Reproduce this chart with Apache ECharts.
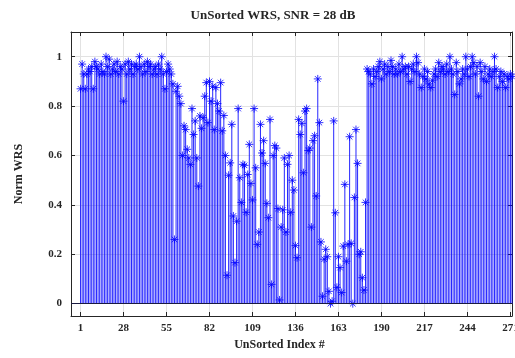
<!DOCTYPE html>
<html>
<head>
<meta charset="utf-8">
<script src="https://cdn.jsdelivr.net/npm/echarts@6/dist/echarts.min.js"></script>
<style>
  html, body { margin: 0; padding: 0; background: #fff; }
  #chart { width: 515px; height: 358px; }
</style>
</head>
<body>
<div id="chart"></div>
<script>
// Normalised WRS per (unsorted) index, 1..272
const wrsFront = [
  0.87, 0.97, 0.93, 0.87, 0.93, 0.95, 0.94, 0.96, 0.87, 0.98,
  0.96, 0.95, 0.93, 0.97, 0.94, 0.93, 1.00, 0.96, 0.99, 0.93,
  0.95, 0.97, 0.94, 0.98, 0.93, 0.96, 0.95, 0.82, 0.97, 0.93,
  0.98, 0.95, 0.97, 0.93, 0.96, 0.97, 0.95, 1.00, 0.96, 0.93,
  0.97, 0.94, 0.98, 0.96, 0.97, 0.93, 0.95, 0.96, 0.93, 0.97,
  0.95, 1.00, 0.93, 0.87, 0.94, 0.97, 0.95, 0.93, 0.89
];
const wrsMiddle = [
  0.26, 0.86, 0.88, 0.84, 0.81, 0.60, 0.72, 0.705, 0.625, 0.59,
  0.564, 0.79, 0.685, 0.74, 0.59, 0.476, 0.76, 0.71, 0.753, 0.84,
  0.895, 0.733, 0.90, 0.82, 0.88, 0.705, 0.875, 0.81, 0.78, 0.895,
  0.70, 0.762, 0.60, 0.115, 0.52, 0.57, 0.726, 0.355, 0.166, 0.334,
  0.79,
  0.51, 0.41, 0.564, 0.56, 0.37, 0.523, 0.645, 0.487, 0.42, 0.79,
  0.55, 0.24, 0.29, 0.726, 0.61, 0.66, 0.568, 0.406, 0.348, 0.746,
  0.078, 0.60, 0.64, 0.63, 0.385, 0.015, 0.31, 0.38, 0.59, 0.29,
  0.564, 0.60, 0.37, 0.50, 0.46, 0.235, 0.186, 0.746, 0.685, 0.73,
  0.53, 0.78, 0.79, 0.62, 0.63, 0.31, 0.66, 0.68, 0.436, 0.91,
  0.733, 0.25, 0.03, 0.18, 0.22, 0.19, 0.05, 0.00, 0.01, 0.74,
  0.368, 0.066, 0.19, 0.146, 0.045, 0.233, 0.483, 0.172, 0.24, 0.676,
  0.244, 0.00, 0.43, 0.705, 0.568, 0.20, 0.21, 0.105, 0.055, 0.41
];
const wrsBack = [
  0.95, 0.94, 0.93, 0.89, 0.95, 0.92, 0.94, 0.96, 0.98, 0.91,
  0.95, 0.97, 0.93, 0.96, 0.94, 0.985, 0.96, 0.93, 0.95, 0.93,
  0.97, 0.94, 1.00, 0.95, 0.96, 0.93, 0.96, 0.90, 0.95, 0.97,
  0.94, 1.00, 0.976, 0.93, 0.875, 0.92, 0.95, 0.91, 0.94, 0.89,
  0.875, 0.905, 0.93, 0.95, 0.92, 0.976, 0.94, 0.96, 0.95, 0.93,
  0.97, 0.94, 1.00, 0.95, 0.93, 0.847, 0.976, 0.94, 0.89, 0.91,
  0.95, 0.93, 1.00, 0.95, 0.92, 0.96, 1.00, 0.976, 0.93, 0.96,
  0.84, 0.976, 0.94, 0.91, 0.96, 0.90, 0.93, 0.95, 0.92, 0.94,
  1.00, 0.95, 0.875, 0.92, 0.94, 0.90, 0.93, 0.875, 0.92, 0.91,
  0.93, 0.92
];

const xTicks = [1, 28, 55, 82, 109, 136, 163, 190, 217, 244, 271];
const yTicks = [0, 0.2, 0.4, 0.6, 0.8, 1];

const wrs = wrsFront.concat(wrsMiddle, wrsBack);
const points = wrs.map((v, k) => [k + 1, v]);

const ink = '#262626';
const stemBlue = '#0000ff';
const labelFont = { fontFamily: 'Liberation Serif', fontWeight: 'bold', fontSize: 11, color: ink };

// eight-armed asterisk marker
const asterisk = 'path://M5,0L5,10M0,5L10,5M1.5,1.5L8.5,8.5M1.5,8.5L8.5,1.5';

const chart = echarts.init(document.getElementById('chart'), null, { renderer: 'canvas' });

const xBase = {
  type: 'value', min: -5, max: 272,
  axisLine: { show: true, onZero: false, lineStyle: { color: ink, width: 1 } },
  axisTick: { show: true, inside: true, length: 4, customValues: xTicks, lineStyle: { color: ink } }
};
const yBase = {
  type: 'value', min: -0.05, max: 1.1,
  axisLine: { show: true, onZero: false, lineStyle: { color: ink, width: 1 } },
  axisTick: { show: true, inside: true, length: 4, customValues: yTicks, lineStyle: { color: ink } }
};

chart.setOption({
  animation: false,
  title: {
    text: 'UnSorted WRS, SNR = 28 dB',
    left: 268, top: 4, textAlign: 'center',
    textStyle: { fontFamily: 'Liberation Serif', fontWeight: 'bold', fontSize: 13, color: ink }
  },
  grid: { left: 71, right: 3, top: 32, bottom: 42, containLabel: false, outerBoundsMode: 'none' },
  xAxis: [
    Object.assign({}, xBase, {
      position: 'bottom',
      name: 'UnSorted Index #', nameLocation: 'middle', nameGap: 20,
      nameTextStyle: { fontFamily: 'Liberation Serif', fontWeight: 'bold', fontSize: 12, color: ink, padding: [0, 24, 0, 0] },
      axisLabel: Object.assign({ margin: 7, customValues: xTicks, hideOverlap: false }, labelFont),
      splitLine: { show: true, lineStyle: { color: '#e2e2e2', width: 1 } }
    }),
    Object.assign({}, xBase, {
      position: 'top',
      axisLabel: { show: false },
      splitLine: { show: false }
    })
  ],
  yAxis: [
    Object.assign({}, yBase, {
      position: 'left',
      name: 'Norm WRS', nameLocation: 'middle', nameGap: 46,
      nameTextStyle: { fontFamily: 'Liberation Serif', fontWeight: 'bold', fontSize: 12, color: ink },
      axisLabel: Object.assign({ margin: 9, customValues: yTicks, formatter: v => String(+v.toFixed(1)) }, labelFont),
      splitLine: { show: true, lineStyle: { color: '#e2e2e2', width: 1 } }
    }),
    Object.assign({}, yBase, {
      position: 'right',
      axisLabel: { show: false },
      splitLine: { show: false }
    })
  ],
  series: [
    {
      type: 'bar',
      xAxisIndex: 0, yAxisIndex: 0,
      data: points,
      barWidth: 1,
      itemStyle: { color: stemBlue, opacity: 0.85 },
      silent: true,
      markLine: {
        silent: true, symbol: 'none',
        label: { show: false },
        lineStyle: { color: '#1a1a40', width: 1, type: 'solid' },
        data: [{ yAxis: 0 }]
      }
    },
    {
      type: 'scatter',
      xAxisIndex: 0, yAxisIndex: 0,
      data: points,
      symbol: asterisk,
      symbolSize: 8,
      itemStyle: { color: 'none', borderColor: stemBlue, borderWidth: 1 },
      silent: true
    }
  ]
});
</script>
</body>
</html>
